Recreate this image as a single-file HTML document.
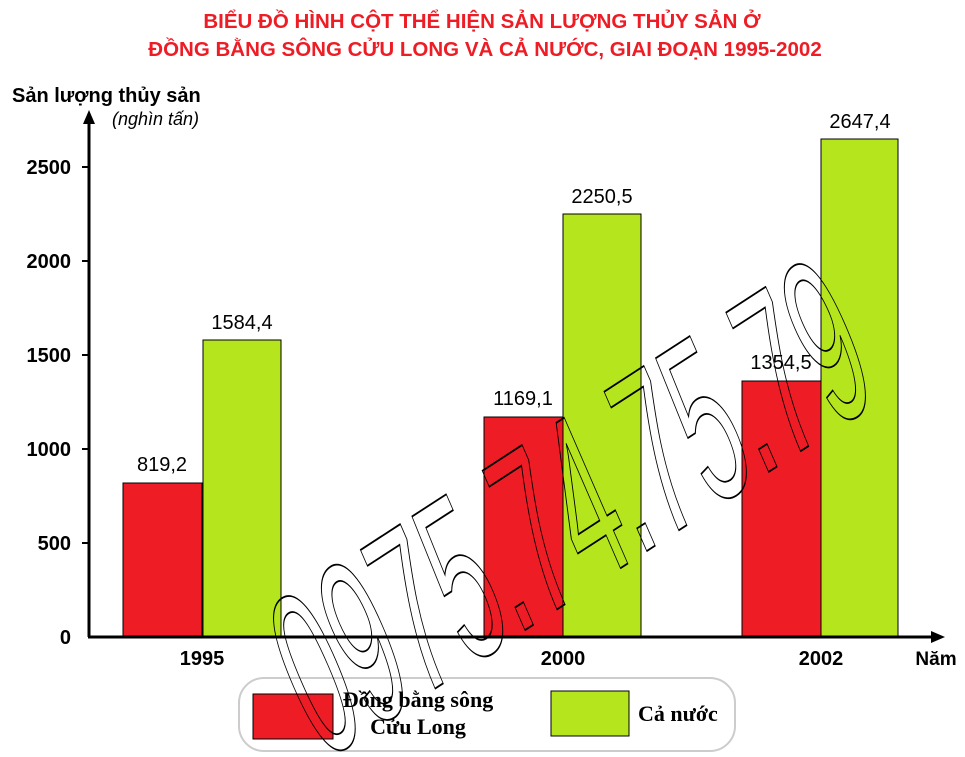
<!DOCTYPE html>
<html><head><meta charset="utf-8"><style>html,body{margin:0;background:#fff;width:965px;height:757px;overflow:hidden}svg{display:block}</style></head><body>
<svg width="965" height="757" xmlns="http://www.w3.org/2000/svg" font-family="Liberation Sans, sans-serif" style="overflow:hidden">
<text x="482" y="28" text-anchor="middle" font-size="20.5" font-weight="bold" fill="#ee1c25">BIỂU ĐỒ HÌNH CỘT THỂ HIỆN SẢN LƯỢNG THỦY SẢN Ở</text>
<text x="485" y="56" text-anchor="middle" font-size="20.5" font-weight="bold" fill="#ee1c25">ĐỒNG BẰNG SÔNG CỬU LONG VÀ CẢ NƯỚC, GIAI ĐOẠN 1995-2002</text>
<text x="12" y="102" font-size="20" font-weight="bold">Sản lượng thủy sản</text>
<text x="112" y="125" font-size="18" font-style="italic">(nghìn tấn)</text>
<g font-size="20" font-weight="bold" text-anchor="end">
<text x="71" y="174">2500</text><text x="71" y="268">2000</text><text x="71" y="362">1500</text><text x="71" y="456">1000</text><text x="71" y="550">500</text><text x="71" y="644">0</text>
</g>
<g stroke="#000" stroke-width="2"><line x1="82" y1="167" x2="89" y2="167"/><line x1="82" y1="261" x2="89" y2="261"/><line x1="82" y1="355" x2="89" y2="355"/><line x1="82" y1="449" x2="89" y2="449"/><line x1="82" y1="543" x2="89" y2="543"/></g>
<g stroke="#000" stroke-width="1">
<rect x="123" y="483" width="79" height="154" fill="#ee1c25"/>
<rect x="203" y="340" width="78" height="297" fill="#b5e61d"/>
<rect x="484" y="417" width="79" height="220" fill="#ee1c25"/>
<rect x="563" y="214" width="78" height="423" fill="#b5e61d"/>
<rect x="742" y="381" width="79" height="256" fill="#ee1c25"/>
<rect x="821" y="139" width="77" height="498" fill="#b5e61d"/>
</g>
<line x1="89" y1="637" x2="89" y2="120" stroke="#000" stroke-width="3"/>
<polygon points="89,110 83,124 95,124" fill="#000"/>
<line x1="88" y1="637" x2="935" y2="637" stroke="#000" stroke-width="3"/>
<polygon points="945,637 931,631 931,643" fill="#000"/>
<g font-size="20" text-anchor="middle">
<text x="162" y="471">819,2</text><text x="242" y="329">1584,4</text>
<text x="523" y="405">1169,1</text><text x="602" y="203">2250,5</text>
<text x="781" y="369">1354,5</text><text x="860" y="128">2647,4</text>
</g>
<g font-size="20" font-weight="bold" text-anchor="middle">
<text x="202" y="665">1995</text><text x="563" y="665">2000</text><text x="821" y="665">2002</text>
</g>
<text x="936" y="665" font-size="19" font-weight="bold" text-anchor="middle">Năm</text>
<rect x="239" y="678" width="496" height="73" rx="25" fill="#fff" stroke="#ccc" stroke-width="2"/>
<rect x="253" y="694" width="80" height="45" fill="#ee1c25" stroke="#000"/>
<rect x="551" y="691" width="78" height="45" fill="#b5e61d" stroke="#000"/>
<g font-family="Liberation Serif, serif" font-weight="bold" font-size="22">
<text x="418" y="707" text-anchor="middle">Đồng bằng sông</text>
<text x="418" y="734" text-anchor="middle">Cửu Long</text>
<text x="638" y="721">Cả nước</text>
</g>
<text transform="translate(322,762) rotate(-33) scale(0.55,1.2) skewX(-20)" font-size="190" fill="none" stroke="#000" stroke-width="1.5">0975.74.75.79</text>
</svg>
</body></html>
